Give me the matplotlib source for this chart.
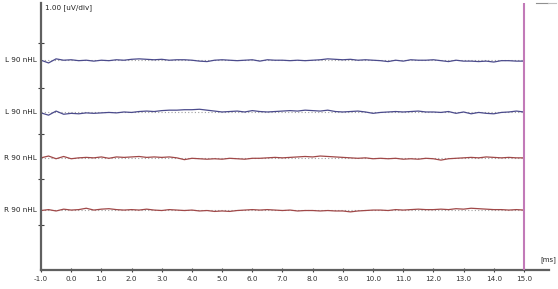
import numpy as np
import matplotlib
matplotlib.use("Agg")
import matplotlib.pyplot as plt

# time axis (ms), sample every 0.25 ms from -1 to 15
time_ms = np.arange(-1.0, 15.0001, 0.25)

labels = ["L 90 nHL", "L 90 nHL", "R 90 nHL", "R 90 nHL"]
offsets = [4.62, 3.48, 2.47, 1.32]          # baseline position in uV (1 uV/div)
colors = ["#4b4b8c", "#4b4b8c", "#a04848", "#a04848"]

trace_L1 = [0.00, -0.06, 0.03, 0.00, 0.01, -0.01, 0.00, -0.02, 0.00, -0.01,
            0.01, 0.00, 0.02, 0.03, 0.02, 0.01, 0.02, 0.00, 0.01, 0.01,
            0.00, -0.02, -0.03, 0.00, 0.01, 0.00, -0.01, 0.00, 0.01, -0.02,
            0.01, 0.00, 0.00, -0.01, 0.00, -0.01, 0.00, 0.01, 0.03, 0.02,
            0.01, 0.02, 0.00, 0.01, 0.00, -0.01, -0.03, 0.00, -0.02, 0.01,
            0.00, 0.00, 0.01, -0.01, -0.03, 0.00, -0.02, -0.02, -0.03, -0.02,
            -0.04, -0.01, -0.01, -0.02, -0.02]
trace_L2 = [-0.02, -0.07, 0.02, -0.05, -0.03, -0.04, -0.02, -0.03, -0.02, -0.01,
            -0.02, 0.00, -0.01, 0.01, 0.02, 0.01, 0.03, 0.04, 0.04, 0.05,
            0.05, 0.06, 0.04, 0.02, 0.00, 0.01, 0.02, 0.00, 0.03, 0.01,
            0.00, 0.01, 0.02, 0.03, 0.02, 0.04, 0.03, 0.02, 0.04, 0.01,
            0.00, 0.01, 0.02, 0.00, -0.03, -0.01, 0.00, 0.01, 0.00, 0.01,
            0.02, 0.00, 0.00, -0.01, 0.01, -0.03, 0.00, -0.04, -0.01, -0.03,
            -0.04, -0.01, 0.00, 0.02, 0.00]
trace_R1 = [0.00, 0.04, -0.02, 0.03, -0.02, 0.00, 0.01, 0.00, 0.02, -0.01,
            0.02, 0.01, 0.02, 0.03, 0.01, 0.02, 0.01, 0.02, 0.00, -0.04,
            -0.01, -0.02, -0.03, -0.02, -0.03, -0.01, -0.02, -0.03, -0.01, -0.01,
            0.00, 0.01, 0.00, 0.01, 0.02, 0.03, 0.02, 0.04, 0.03, 0.02,
            0.01, 0.00, -0.01, 0.00, -0.02, -0.01, -0.02, -0.01, -0.03, -0.02,
            -0.03, -0.01, -0.02, -0.05, -0.02, -0.01, 0.00, 0.01, 0.00, 0.02,
            0.01, 0.00, 0.01, 0.00, 0.00]
trace_R2 = [-0.01, 0.01, -0.02, 0.02, 0.00, 0.01, 0.04, 0.00, 0.02, 0.03,
            0.01, 0.00, 0.01, 0.00, 0.02, 0.00, -0.01, 0.01, 0.00, -0.01,
            0.00, -0.02, -0.01, -0.03, -0.02, -0.03, -0.01, 0.00, 0.01, 0.00,
            0.01, 0.00, -0.01, 0.00, -0.02, -0.01, -0.01, -0.02, -0.01, -0.02,
            -0.02, -0.04, -0.02, -0.01, 0.00, 0.00, -0.01, 0.01, 0.00, 0.01,
            0.02, 0.01, 0.01, 0.02, 0.01, 0.03, 0.02, 0.04, 0.03, 0.02,
            0.01, 0.01, 0.00, 0.01, 0.00]
traces = [trace_L1, trace_L2, trace_R1, trace_R2]

xticks = np.arange(-1.0, 15.01, 1.0)
yticks = [1, 2, 3, 4, 5]

fig = plt.figure(figsize=(5.58, 2.89), dpi=100)
ax = fig.add_axes([41/558, 19/289, 508/558, 267/289])
ax.set_xlim(-1.0, 15.83)
ax.set_ylim(0, 5.88)

for tr, off, col, lab in zip(traces, offsets, colors, labels):
    y = off + np.array(tr)
    ax.plot([time_ms[0], time_ms[-1]], [off, off], color="#a0a0a0", lw=0.8,
            linestyle=(0, (1, 2)), zorder=1)
    ax.plot(time_ms, y, color=col, lw=0.9, zorder=2)
    ax.text(-1.15, off, lab, ha="right", va="center", fontsize=5.2, color="#222222")

ax.axvline(15.0, color="#c27ab8", lw=1.5, zorder=3)

for s in ["top", "right"]:
    ax.spines[s].set_visible(False)
for s in ["left", "bottom"]:
    ax.spines[s].set_color("#606060")
    ax.spines[s].set_linewidth(1.6)

ax.set_xticks(xticks)
ax.set_xticklabels([f"{v:.1f}" for v in xticks], fontsize=5.2, color="#333333")
ax.set_yticks(yticks)
ax.set_yticklabels([])
ax.tick_params(axis="x", direction="inout", length=3, width=0.8, color="#404040", pad=3)
ax.tick_params(axis="y", direction="inout", length=4, width=0.8, color="#404040")

ax.text(-0.88, 5.86, "1.00 [uV/div]", ha="left", va="top", fontsize=5.2, color="#222222")
ax.text(15.55, 0.15, "[ms]", ha="left", va="bottom", fontsize=5.0, color="#222222")

fig.add_artist(plt.Line2D([536/558, 548/558], [1 - 2.5/289, 1 - 2.5/289],
                          color="#909090", lw=0.8))
fig.add_artist(plt.Line2D([548/558, 556/558], [1 - 2.5/289, 1 - 2.5/289],
                          color="#c0c0c0", lw=0.8))

fig.savefig("out.png", dpi=100)
